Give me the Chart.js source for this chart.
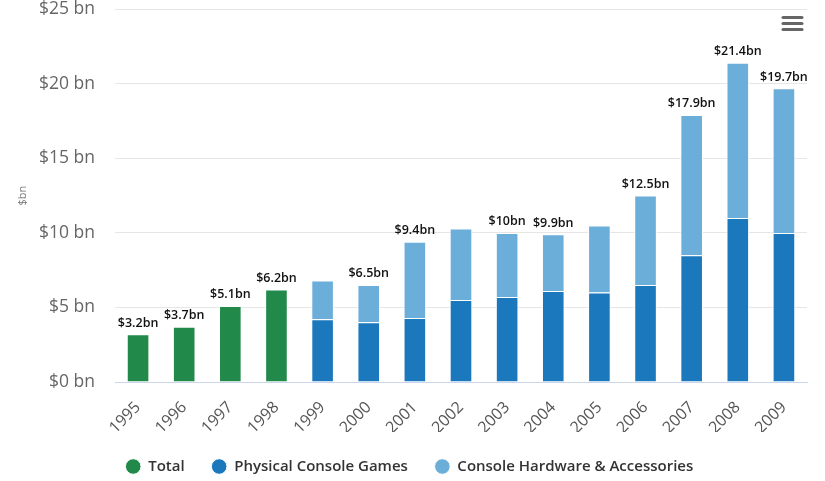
<!DOCTYPE html>
<html>
<head>
<meta charset="utf-8">
<script src="https://cdn.jsdelivr.net/npm/chart.js@4"></script>
<style>
  html, body { margin: 0; padding: 0; background: #fff; }
  #wrap { width: 825px; height: 481px; }
</style>
</head>
<body>
<div id="wrap"><canvas id="games-chart"></canvas></div>
<script>
const years = ['1995', '1996', '1997', '1998', '1999', '2000', '2001', '2002',
  '2003', '2004', '2005', '2006', '2007', '2008', '2009']

// early years only have a total figure
const totalValues = [3.2, 3.7, 5.1, 6.2, null, null, null, null, null, null, null, null, null, null, null]
const physicalGames = [null, null, null, null, 4.2, 4.0, 4.3, 5.5, 5.7, 6.1, 6.0, 6.5, 8.5, 11.0, 10.0]
const hardwareAccessories = [null, null, null, null, 2.6, 2.5, 5.1, 4.8, 4.3, 3.8, 4.5, 6.0, 9.4, 10.4, 9.7]

// labels printed above the bars (some years have none)
const topLabels = ['$3.2bn', '$3.7bn', '$5.1bn', '$6.2bn', null, '$6.5bn', '$9.4bn', null,
  '$10bn', '$9.9bn', null, '$12.5bn', '$17.9bn', '$21.4bn', '$19.7bn']

const yTicks = [0, 5, 10, 15, 20, 25]

const FONT = '"Open Sans", "DejaVu Sans", sans-serif'

const stackLabels = {
  id: 'stackLabels',
  afterDatasetsDraw(chart) {
    const ctx = chart.ctx
    const yScale = chart.scales.y
    ctx.save()
    ctx.font = `600 12.5px ${FONT}`
    ctx.fillStyle = '#111'
    ctx.textAlign = 'center'
    ctx.textBaseline = 'bottom'
    topLabels.forEach((text, i) => {
      if (!text) return
      let sum = 0
      let x = null
      chart.data.datasets.forEach((ds, d) => {
        const v = ds.data[i]
        if (v != null) {
          sum += v
          x = chart.getDatasetMeta(d).data[i].x
        }
      })
      ctx.fillText(text, x, yScale.getPixelForValue(sum) - 5)
    })
    ctx.restore()
  }
}

const menuIcon = {
  id: 'menuIcon',
  afterDraw(chart) {
    const ctx = chart.ctx
    ctx.save()
    ctx.strokeStyle = '#666'
    ctx.lineWidth = 3
    ctx.lineCap = 'round'
    ;[17.5, 23.5, 29.5].forEach(y => {
      ctx.beginPath()
      ctx.moveTo(783, y)
      ctx.lineTo(802, y)
      ctx.stroke()
    })
    ctx.restore()
  }
}

// nudge the legend a little to the right, like the original
const legendShift = {
  id: 'legendShift',
  afterLayout(chart) {
    chart.legend.left += 6
    chart.legend.right += 6
  }
}

const data = {
  labels: years,
  datasets: [
    {
      label: 'Total',
      data: totalValues,
      backgroundColor: '#21894a',
      borderColor: '#ffffff',
      borderWidth: 1
    },
    {
      label: 'Physical Console Games',
      data: physicalGames,
      backgroundColor: '#1b78bd',
      borderColor: '#ffffff',
      borderWidth: 1
    },
    {
      label: 'Console Hardware & Accessories',
      data: hardwareAccessories,
      backgroundColor: '#6aaed9',
      borderColor: '#ffffff',
      borderWidth: 1
    }
  ]
}

const config = {
  type: 'bar',
  data: data,
  plugins: [stackLabels, menuIcon, legendShift],
  options: {
    responsive: true,
    maintainAspectRatio: false,
    animation: false,
    barPercentage: 0.5,
    categoryPercentage: 0.98,
    layout: { padding: { left: 0, right: 18, top: 0, bottom: -3 } },
    plugins: {
      tooltip: { enabled: false },
      legend: {
        position: 'bottom',
        labels: {
          usePointStyle: true,
          pointStyle: 'circle',
          boxWidth: 21,
          boxHeight: 11,
          padding: 27,
          color: '#333',
          font: { family: FONT, size: 15, weight: '600' }
        }
      }
    },
    scales: {
      x: {
        stacked: true,
        grid: { display: false },
        border: { display: true, color: '#ccd6eb', width: 1 },
        ticks: {
          color: '#555',
          minRotation: 45,
          maxRotation: 45,
          padding: 8,
          font: { family: FONT, size: 16 }
        },
        afterFit(scale) { scale.height = 50 }
      },
      y: {
        stacked: true,
        min: 0,
        max: 25,
        afterBuildTicks(scale) { scale.ticks = yTicks.map(v => ({ value: v })) },
        // tick marks are invisible, they only keep the labels away from the grid
        grid: { color: '#e6e6e6', drawTicks: true, tickLength: 20, tickColor: 'rgba(0,0,0,0)' },
        border: { display: false },
        title: {
          display: true,
          text: '$bn',
          color: '#777',
          padding: { top: 16, bottom: 0 },
          font: { family: FONT, size: 11 }
        },
        ticks: {
          color: '#666',
          padding: 0,
          font: { family: FONT, size: 17.5, lineHeight: 1.05 },
          callback: v => `$${v} bn`
        },
        afterFit(scale) { scale.width = 115 }
      }
    }
  }
}

const chart = new Chart(document.getElementById('games-chart'), config)
</script>
</body>
</html>
